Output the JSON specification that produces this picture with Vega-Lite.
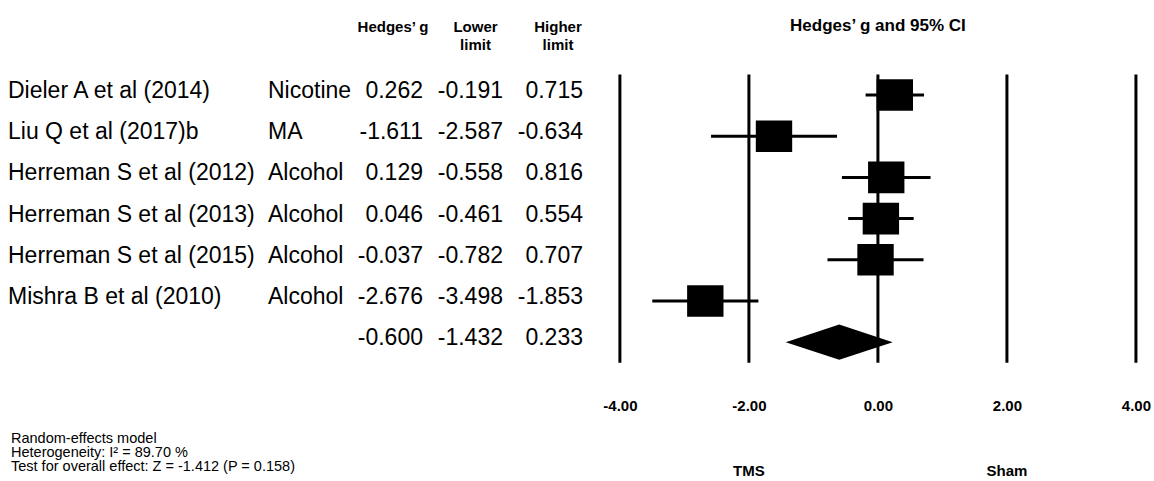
{
  "$schema": "https://vega.github.io/schema/vega-lite/v6.json",
  "width": 1154,
  "height": 481,
  "autosize": "none",
  "padding": 0,
  "background": "white",
  "config": {
    "view": {"stroke": null},
    "font": "Liberation Sans",
    "text": {"color": "black"},
    "locale": {"number": {"decimal": ".", "thousands": ",", "grouping": [3], "currency": ["$", ""], "minus": "-"}}
  },
  "datasets": {
    "rows": [
      {"kind": "study", "row": 1, "study": "Dieler A et al (2014)", "drug": "Nicotine", "g": 0.262, "lower": -0.191, "upper": 0.715},
      {"kind": "study", "row": 2, "study": "Liu Q et al (2017)b", "drug": "MA", "g": -1.611, "lower": -2.587, "upper": -0.634},
      {"kind": "study", "row": 3, "study": "Herreman S et al (2012)", "drug": "Alcohol", "g": 0.129, "lower": -0.558, "upper": 0.816},
      {"kind": "study", "row": 4, "study": "Herreman S et al (2013)", "drug": "Alcohol", "g": 0.046, "lower": -0.461, "upper": 0.554},
      {"kind": "study", "row": 5, "study": "Herreman S et al (2015)", "drug": "Alcohol", "g": -0.037, "lower": -0.782, "upper": 0.707},
      {"kind": "study", "row": 6, "study": "Mishra B et al (2010)", "drug": "Alcohol", "g": -2.676, "lower": -3.498, "upper": -1.853},
      {"kind": "summary", "row": 7, "study": "", "drug": "", "g": -0.600, "lower": -1.432, "upper": 0.233}
    ],
    "ticks": [{"t": -4}, {"t": -2}, {"t": 0}, {"t": 2}, {"t": 4}],
    "headers": [
      {"col": "hg", "txt": "Hedges’ g"},
      {"col": "hl", "txt": "Lower\nlimit"},
      {"col": "hh", "txt": "Higher\nlimit"}
    ],
    "sides": [{"side": "TMS", "pos": -2}, {"side": "Sham", "pos": 2}],
    "notes": [{"col": "study", "txt": "Random-effects model\nHeterogeneity: I² = 89.70 %\nTest for overall effect: Z = -1.412 (P = 0.158)"}]
  },
  "layer": [
    {
      "layer": [
        {
          "data": {"name": "ticks"},
          "mark": {"type": "rule", "strokeWidth": 3, "color": "black"},
          "encoding": {
            "x": {"field": "t", "type": "quantitative", "scale": {"domain": [-13.61, 4.28], "nice": false, "zero": false},
                  "axis": {"values": [-4, -2, 0, 2, 4], "format": ".2f", "orient": "bottom", "offset": -85, "domain": false, "ticks": false, "grid": false, "title": null, "labelFont": "Liberation Sans", "labelFontWeight": "bold", "labelFontSize": 15, "labelColor": "black", "labelPadding": 2}},
            "y": {"datum": 0.5, "type": "quantitative", "scale": {"domain": [-1.306, 10.369], "reverse": true, "nice": false, "zero": false}, "axis": null},
            "y2": {"datum": 7.5}
          }
        },
        {
          "data": {"name": "rows"},
          "transform": [{"filter": "datum.kind === 'study'"}],
          "mark": {"type": "rule", "strokeWidth": 3, "color": "black"},
          "encoding": {
            "x": {"field": "lower", "type": "quantitative", "scale": {"domain": [-13.61, 4.28], "nice": false, "zero": false}},
            "x2": {"field": "upper"},
            "y": {"field": "row", "type": "quantitative", "scale": {"domain": [-1.306, 10.369], "reverse": true, "nice": false, "zero": false}, "axis": null}
          }
        },
        {
          "data": {"name": "rows"},
          "transform": [{"filter": "datum.kind === 'study'"}],
          "mark": {"type": "point", "shape": "M-1.15,-1H1.15V1H-1.15Z", "filled": true, "color": "black", "opacity": 1, "size": 1000},
          "encoding": {
            "x": {"field": "g", "type": "quantitative", "scale": {"domain": [-13.61, 4.28], "nice": false, "zero": false}},
            "y": {"field": "row", "type": "quantitative", "scale": {"domain": [-1.306, 10.369], "reverse": true, "nice": false, "zero": false}, "axis": null}
          }
        },
        {
          "data": {"name": "rows"},
          "transform": [{"filter": "datum.kind === 'summary'"}],
          "mark": {"type": "point", "shape": "M-1,0L0,-0.33L1,0L0,0.33Z", "filled": true, "color": "black", "opacity": 1, "size": 11449},
          "encoding": {
            "x": {"field": "g", "type": "quantitative", "scale": {"domain": [-13.61, 4.28], "nice": false, "zero": false}},
            "y": {"field": "row", "type": "quantitative", "scale": {"domain": [-1.306, 10.369], "reverse": true, "nice": false, "zero": false}, "axis": null}
          }
        },
        {
          "data": {"values": [{"title": "Hedges’ g and 95% CI"}]},
          "mark": {"type": "text", "fontWeight": "bold", "fontSize": 17, "baseline": "middle", "align": "center"},
          "encoding": {
            "x": {"datum": 0, "type": "quantitative", "scale": {"domain": [-13.61, 4.28], "nice": false, "zero": false}},
            "y": {"datum": -0.675, "type": "quantitative", "scale": {"domain": [-1.306, 10.369], "reverse": true, "nice": false, "zero": false}, "axis": null},
            "text": {"field": "title"}
          }
        },
        {
          "data": {"name": "sides"},
          "mark": {"type": "text", "fontWeight": "bold", "fontSize": 15, "baseline": "middle", "align": "center"},
          "encoding": {
            "x": {"field": "pos", "type": "quantitative", "scale": {"domain": [-13.61, 4.28], "nice": false, "zero": false}},
            "y": {"datum": 10.12, "type": "quantitative", "scale": {"domain": [-1.306, 10.369], "reverse": true, "nice": false, "zero": false}, "axis": null},
            "text": {"field": "side"}
          }
        }
      ]
    },
    {
      "layer": [
        {
          "data": {"name": "rows"},
          "transform": [{"fold": ["study", "drug"], "as": ["col", "txt"]}],
          "mark": {"type": "text", "align": "left", "baseline": "middle", "fontSize": 23, "dy": -4},
          "encoding": {
            "x": {"field": "col", "type": "nominal", "scale": {"domain": ["study", "drug"], "range": [8, 268], "padding": 0}, "axis": null},
            "y": {"field": "row", "type": "quantitative", "scale": {"domain": [-1.306, 10.369], "reverse": true, "nice": false, "zero": false}, "axis": null},
            "text": {"field": "txt"}
          }
        },
        {
          "data": {"name": "notes"},
          "mark": {"type": "text", "align": "left", "baseline": "top", "fontSize": 14.5, "lineHeight": 14, "lineBreak": "\n", "dx": 3},
          "encoding": {
            "x": {"field": "col", "type": "nominal", "scale": {"domain": ["study", "drug"], "range": [8, 268], "padding": 0}, "axis": null},
            "y": {"datum": 9.18, "type": "quantitative", "scale": {"domain": [-1.306, 10.369], "reverse": true, "nice": false, "zero": false}, "axis": null},
            "text": {"field": "txt"}
          }
        }
      ]
    },
    {
      "layer": [
        {
          "data": {"name": "rows"},
          "transform": [{"fold": ["g", "lower", "upper"], "as": ["col", "val"]}],
          "mark": {"type": "text", "align": "right", "baseline": "middle", "fontSize": 23, "dy": -4},
          "encoding": {
            "x": {"field": "col", "type": "nominal", "scale": {"domain": ["g", "lower", "upper"], "range": [423, 583], "padding": 0}, "axis": null},
            "y": {"field": "row", "type": "quantitative", "scale": {"domain": [-1.306, 10.369], "reverse": true, "nice": false, "zero": false}, "axis": null},
            "text": {"field": "val", "type": "quantitative", "format": ".3f"}
          }
        }
      ]
    },
    {
      "layer": [
        {
          "data": {"name": "headers"},
          "mark": {"type": "text", "align": "center", "baseline": "middle", "fontSize": 15, "fontWeight": "bold", "lineHeight": 18, "lineBreak": "\n"},
          "encoding": {
            "x": {"field": "col", "type": "nominal", "scale": {"domain": ["hg", "hl", "hh"], "range": [393, 558], "padding": 0}, "axis": null},
            "y": {"datum": -0.65, "type": "quantitative", "scale": {"domain": [-1.306, 10.369], "reverse": true, "nice": false, "zero": false}, "axis": null},
            "text": {"field": "txt"}
          }
        }
      ]
    }
  ],
  "resolve": {"scale": {"x": "independent"}}
}
